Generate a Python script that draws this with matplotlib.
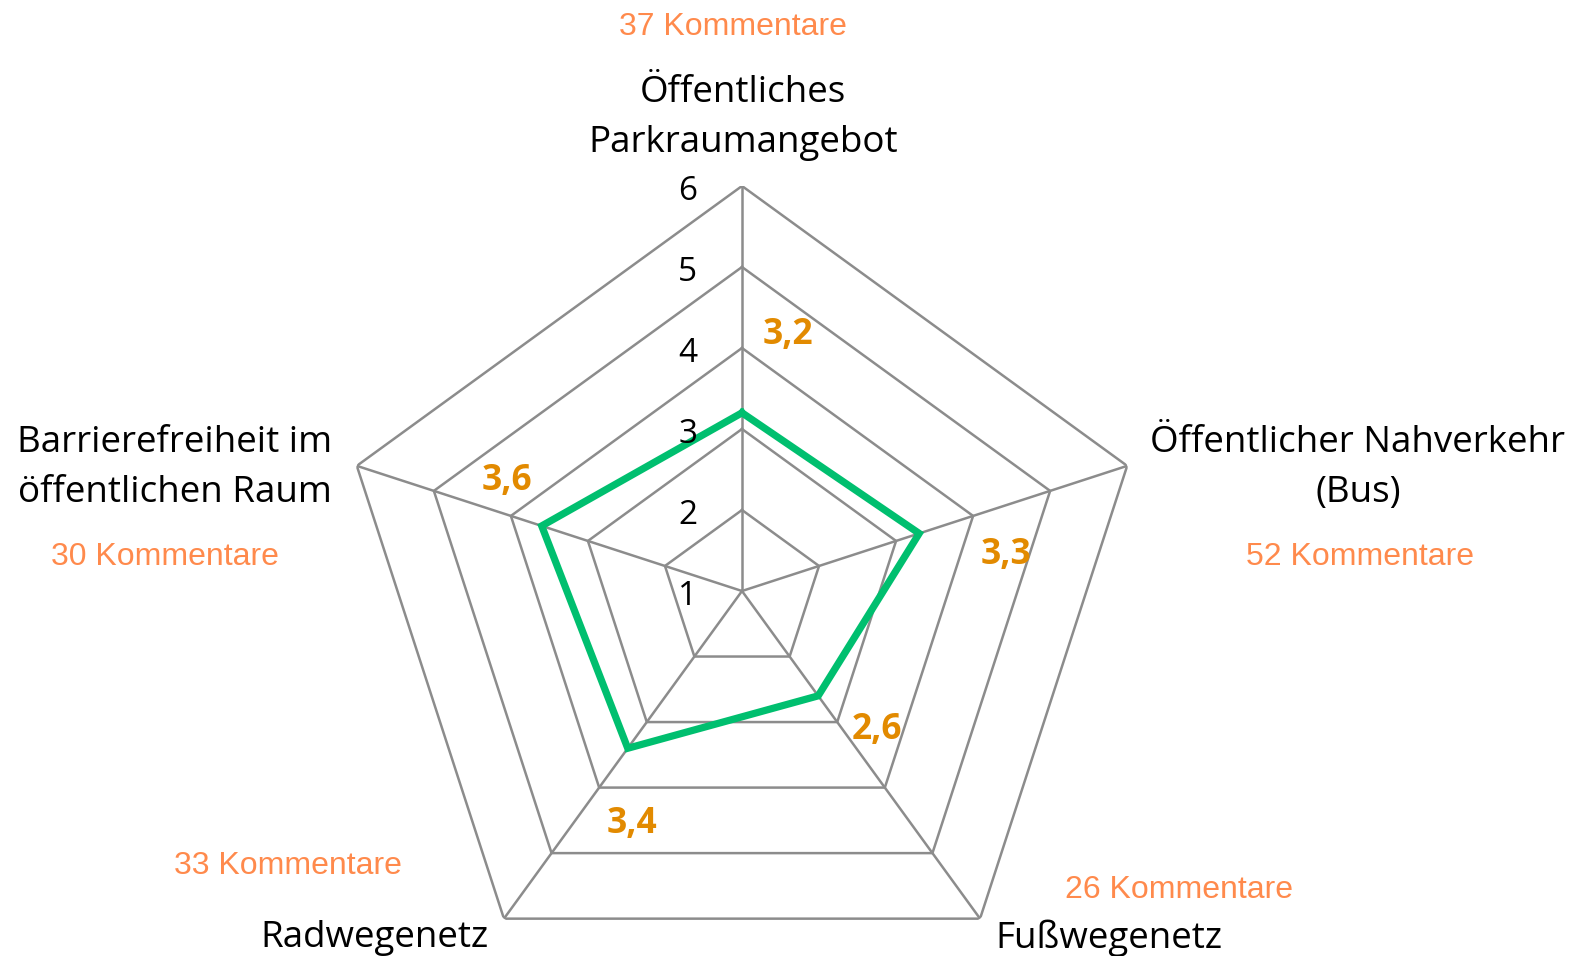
import numpy as np
import matplotlib
matplotlib.use("Agg")
import matplotlib.pyplot as plt

categories = ["Öffentliches\nParkraumangebot", "Öffentlicher Nahverkehr\n(Bus)",
              "Fußwegenetz", "Radwegenetz", "Barrierefreiheit im\nöffentlichen Raum"]
values = [3.2, 3.3, 2.6, 3.4, 3.6]
value_labels = ["3,2", "3,3", "2,6", "3,4", "3,6"]
comments = ["37 Kommentare", "52 Kommentare", "26 Kommentare", "33 Kommentare", "30 Kommentare"]
rings = [1, 2, 3, 4, 5, 6]

W, H = 1589, 956
fig = plt.figure(figsize=(W / 100, H / 100), dpi=100)

# center of the pentagon in pixels, radius of outer ring
cx, cy, R = 742, 591, 405
ax = fig.add_axes([(cx - R) / W, 1 - (cy + R) / H, 2 * R / W, 2 * R / H], projection="polar")
ax.set_theta_offset(np.pi / 2)
ax.set_theta_direction(-1)
ax.set_ylim(1, 6)
ax.set_axis_off()

n = len(categories)
theta = np.arange(n) * 2 * np.pi / n
closed = np.append(theta, theta[0])

grid_col = "#8c8c8c"
for r in rings[1:]:
    ax.plot(closed, [r] * (n + 1), color=grid_col, lw=1.8, zorder=1)
for t in theta:
    ax.plot([t, t], [rings[0], rings[-1]], color=grid_col, lw=1.8, zorder=1)

ax.plot(closed, values + values[:1], color="#00bf6f", lw=5.2, zorder=3,
        solid_joinstyle="miter")

# ring numbers, left of the top spoke
for r in rings:
    ax.annotate(str(r), (0, r), xytext=(-39, -4), textcoords="offset points",
                ha="center", va="center", fontsize=24, family="Open Sans", color="black")


def px(x, y):
    return x / W, 1 - y / H


# data labels
lab_pos = [(788, 335), (1006, 555), (877, 730), (632, 824), (507, 481)]
for (x, y), s in zip(lab_pos, value_labels):
    fig.text(*px(x, y), s, ha="center", va="center", fontsize=25.5, family="Open Sans",
             fontweight="bold", color="#e28a00")

# category labels
cat_pos = [(743, 118), (1358, 468), (1109, 938), (375, 938), (175, 468)]
for (x, y), s in zip(cat_pos, categories):
    fig.text(*px(x, y), s, ha="center", va="center", fontsize=26.5, family="Open Sans",
             color="black", linespacing=1.55)

# comment counts
com_pos = [(733, 27), (1360, 557), (1179, 890), (288, 866), (165, 557)]
for (x, y), s in zip(com_pos, comments):
    fig.text(*px(x, y), s, ha="center", va="center", fontsize=23,
             family="Liberation Sans", color="#ff8a4c")

fig.savefig("out.png", dpi=100, facecolor="white")
